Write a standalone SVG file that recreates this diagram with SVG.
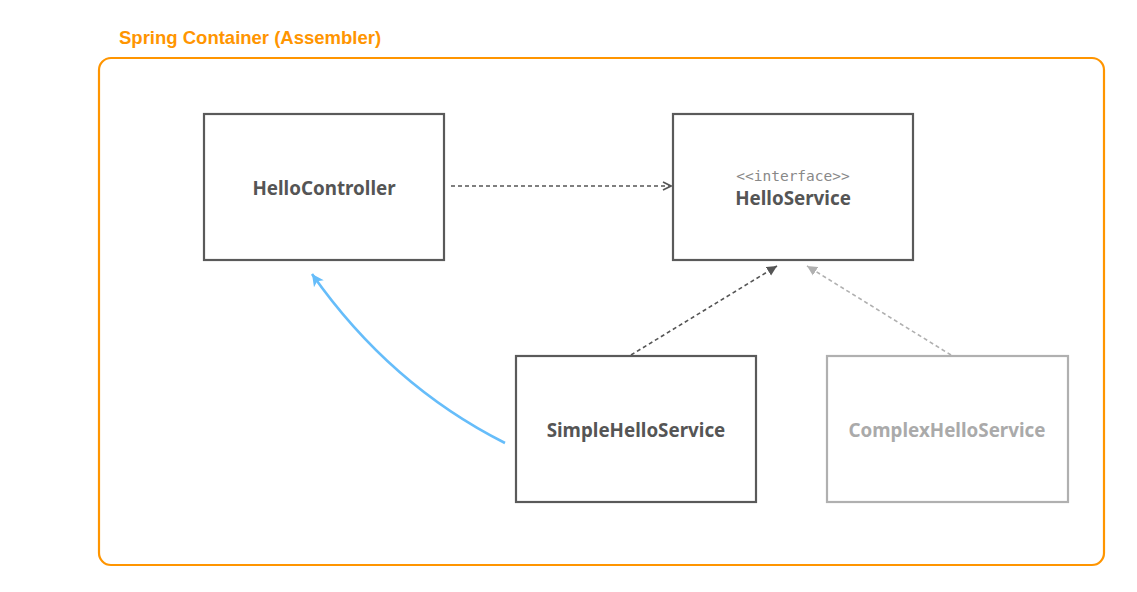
<svg xmlns="http://www.w3.org/2000/svg" width="1137" height="592" viewBox="0 0 1137 592">
<style>
.box{fill:#fff;stroke:#5a5a5a;stroke-width:2.2}
.box.dim{stroke:#b0b0b0}
.lbl{font-family:"Noto Sans","DejaVu Sans",sans-serif;font-weight:bold;font-size:18.8px;fill:#555;text-anchor:middle}
.lbl.dim{fill:#aaa}
.ster{font-family:"DejaVu Sans Mono","Liberation Mono",monospace;font-size:14.5px;fill:#888;text-anchor:middle}
.dash{fill:none;stroke:#555;stroke-width:1.6;stroke-dasharray:4 3}
.dash.dim{stroke:#b0b0b0}
</style>
<defs>
<marker id="open" markerWidth="10" markerHeight="10" refX="9" refY="5" orient="auto" markerUnits="userSpaceOnUse">
<path d="M1,1 L9,5 L1,9" fill="none" stroke="#555" stroke-width="1.6"/>
</marker>
<marker id="tri" markerWidth="12" markerHeight="12" refX="10" refY="6" orient="auto" markerUnits="userSpaceOnUse">
<path d="M0,1 L10,6 L0,11 Z" fill="#555"/>
</marker>
<marker id="tridim" markerWidth="12" markerHeight="12" refX="10" refY="6" orient="auto" markerUnits="userSpaceOnUse">
<path d="M0,1 L10,6 L0,11 Z" fill="#b0b0b0"/>
</marker>
<marker id="blue" markerWidth="14" markerHeight="14" refX="12" refY="7" orient="auto" markerUnits="userSpaceOnUse">
<path d="M0,1 L12,7 L0,13 L3,7 Z" fill="#66bdfa"/>
</marker>
</defs>
<g id="container">
<text x="119" y="44" font-family="Liberation Sans,Arial,sans-serif" font-weight="bold" font-size="18.5" fill="#ff9500">Spring Container (Assembler)</text>
<rect x="99" y="58" width="1005" height="507" rx="12" fill="none" stroke="#ff9500" stroke-width="2.2"/>
</g>
<g id="connectors">
<path class="dash" d="M451,186 L671,186" marker-end="url(#open)"/>
<path class="dash" d="M631,355 L777,266" marker-end="url(#tri)"/>
<path class="dash dim" d="M951,355 L807,266" marker-end="url(#tridim)"/>
<path d="M505,443 Q390,385 312,274" fill="none" stroke="#66bdfa" stroke-width="2.6" marker-end="url(#blue)"/>
</g>
<g id="HelloController">
<rect class="box" x="204" y="114" width="240" height="146"/>
<text class="lbl" x="324" y="195">HelloController</text>
</g>
<g id="HelloService">
<rect class="box" x="673" y="114" width="240" height="146"/>
<text class="ster" x="793" y="181">&lt;&lt;interface&gt;&gt;</text>
<text class="lbl" x="793" y="205">HelloService</text>
</g>
<g id="SimpleHelloService">
<rect class="box" x="516" y="356" width="240" height="146"/>
<text class="lbl" x="636" y="437">SimpleHelloService</text>
</g>
<g id="ComplexHelloService">
<rect class="box dim" x="827" y="356" width="241" height="146"/>
<text class="lbl dim" x="947" y="437">ComplexHelloService</text>
</g>
</svg>
